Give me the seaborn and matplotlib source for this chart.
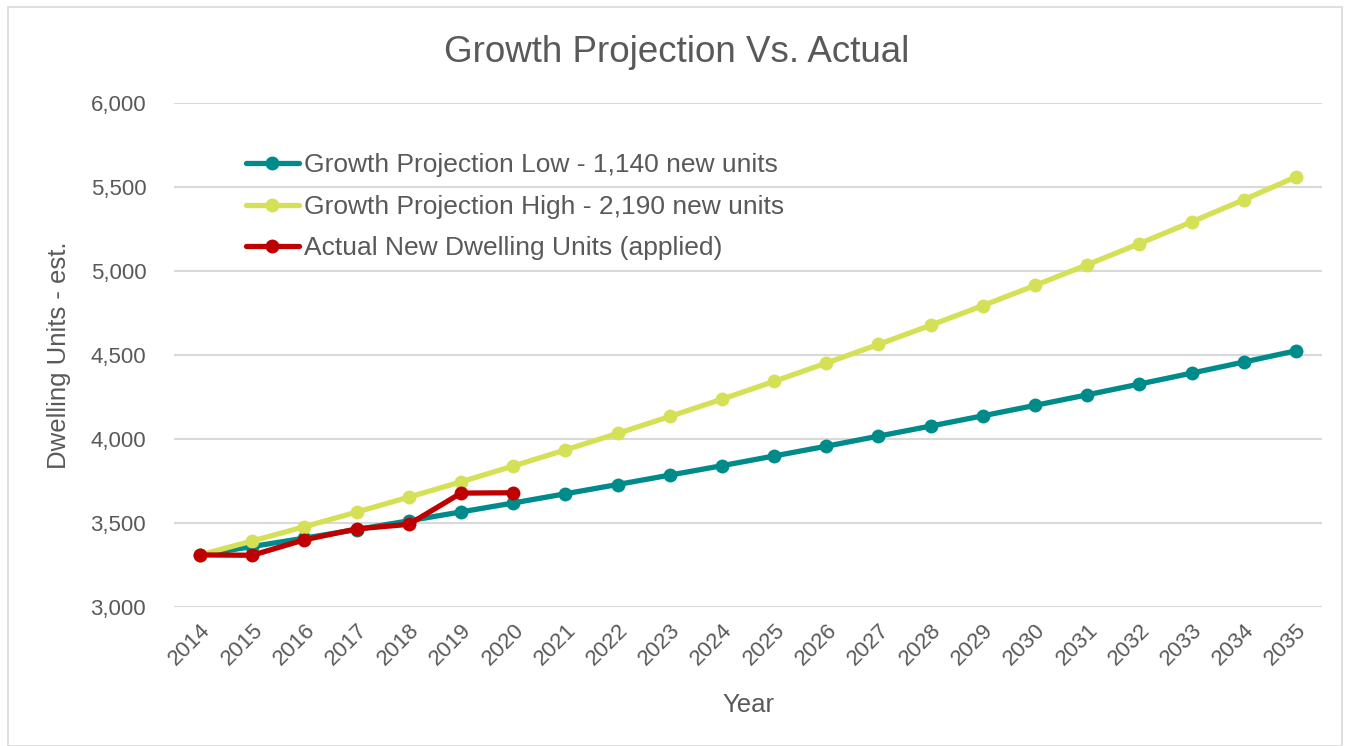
import pandas as pd
import numpy as np
import matplotlib.pyplot as plt
import seaborn as sns
from matplotlib.patches import Rectangle

years = list(range(2014, 2036))
low = [3310, 3360, 3410, 3461, 3513, 3566, 3619, 3674, 3729, 3785, 3841,
       3899, 3957, 4017, 4077, 4138, 4200, 4263, 4327, 4392, 4458, 4525]
high = [3310, 3393, 3478, 3565, 3654, 3745, 3839, 3935, 4033, 4134, 4237,
        4343, 4452, 4563, 4677, 4794, 4914, 5037, 5163, 5292, 5424, 5560]
actual_years = list(range(2014, 2021))
actual = [3310, 3308, 3400, 3465, 3492, 3678, 3680]

names = ["Growth Projection Low - 1,140 new units",
         "Growth Projection High - 2,190 new units",
         "Actual New Dwelling Units (applied)"]
colors = ["#008B8B", "#D4E157", "#C00000"]

df = pd.concat([
    pd.DataFrame({"Year": years, "Units": low, "Series": names[0]}),
    pd.DataFrame({"Year": years, "Units": high, "Series": names[1]}),
    pd.DataFrame({"Year": actual_years, "Units": actual, "Series": names[2]}),
])

sns.set_style("white")
plt.rcParams['font.family'] = ['Liberation Sans', 'DejaVu Sans']
grey = "#595959"

fig = plt.figure(figsize=(13.53, 7.46), dpi=100)
ax = fig.add_axes([174 / 1353, 1 - 607 / 746, 1148 / 1353, 504 / 746])

sns.lineplot(data=df, x="Year", y="Units", hue="Series", hue_order=names,
             palette=colors, marker="o", markersize=10, markeredgewidth=0,
             linewidth=3.8, ax=ax)

ax.set_xlim(2013.5, 2035.5)
ax.set_ylim(3000, 6000)
ax.set_xticks(years)
ax.set_xticklabels([str(y) for y in years], rotation=45, ha="right",
                   rotation_mode="anchor", fontsize=16, color=grey)
ax.set_yticks(range(3000, 6001, 500))
ax.set_yticklabels([f"{v:,}" for v in range(3000, 6001, 500)], fontsize=16, color=grey)
ax.tick_params(axis="x", length=0, pad=9)
ax.tick_params(axis="y", length=0, pad=20)
ax.grid(axis="y", color="#D9D9D9", linewidth=1.5)
ax.set_axisbelow(True)
for s in ax.spines.values():
    s.set_visible(False)

ax.set_xlabel("Year", fontsize=18.5, color=grey, labelpad=17)
ax.set_ylabel("Dwelling Units - est.", fontsize=18.5, color=grey, labelpad=14)
fig.text(0.5, 1 - 52 / 746, "Growth Projection Vs. Actual", ha="center",
         va="center", fontsize=26.5, color=grey)

leg = ax.legend(loc="upper left", bbox_to_anchor=(0.042, 0.947), frameon=False,
                fontsize=19, handlelength=2.0, handletextpad=0.2,
                labelspacing=0.66, labelcolor=grey)
for h in leg.legend_handles:
    h.set_linewidth(3.8)

fig.patches.append(Rectangle((8 / 1353, 0.0), 1334 / 1353, 1 - 7 / 746,
                             transform=fig.transFigure, fill=False,
                             edgecolor="#D9D9D9", linewidth=1.2))

fig.savefig("out.png", dpi=100)
